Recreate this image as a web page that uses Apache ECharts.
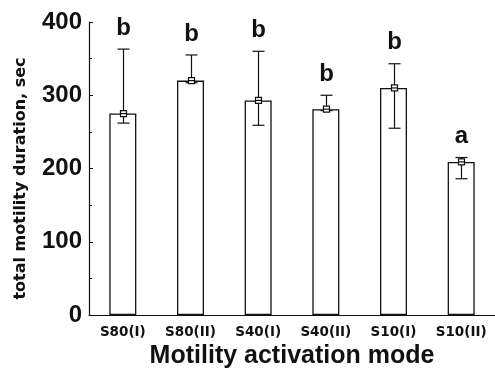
<!DOCTYPE html>
<html>
<head>
<meta charset="utf-8">
<script src="https://cdn.jsdelivr.net/npm/echarts@6/dist/echarts.min.js"></script>
<style>
  html, body { margin: 0; padding: 0; background: #fff; }
  #chart { width: 495px; height: 371px; }
</style>
</head>
<body>
<div id="chart"></div>
<script>
const categories = ["S80(I)", "S80(II)", "S40(I)", "S40(II)", "S10(I)", "S10(II)"];
const means = [275, 320, 293, 281, 310, 209];
const errHigh = [363, 355, 360, 300, 343, 215];
const errLow = [262, 317, 259, 279, 255, 186];
const letters = ["b", "b", "b", "b", "b", "a"];
const yTicks = { min: 0, max: 400, interval: 100 };

const FONT = "Liberation Sans, Arial, sans-serif";
const WIDE = "DejaVu Sans, sans-serif";
const INK = "#111";

// error bar + mean marker + significance letter, one item per category
function renderError(params, api) {
  const i = api.value(0);
  const top = api.coord([i, api.value(2)]);
  const bottom = api.coord([i, api.value(3)]);
  const mid = api.coord([i, api.value(1)]);
  const x = Math.round(top[0]) + 0.5;
  const cap = 6;
  const sq = 3;
  const stroke = { stroke: INK, lineWidth: 1.2 };
  return {
    type: "group",
    children: [
      { type: "line", shape: { x1: x, y1: top[1], x2: x, y2: bottom[1] }, style: stroke },
      { type: "line", shape: { x1: x - cap, y1: top[1], x2: x + cap, y2: top[1] }, style: stroke },
      { type: "line", shape: { x1: x - cap, y1: bottom[1], x2: x + cap, y2: bottom[1] }, style: stroke },
      { type: "rect", shape: { x: x - sq, y: mid[1] - sq, width: sq * 2, height: sq * 2 },
        style: { fill: "#fff", stroke: INK, lineWidth: 1.2 } },
      { type: "line", shape: { x1: x - sq, y1: mid[1], x2: x + sq, y2: mid[1] }, style: stroke },
      { type: "text", x: x, y: top[1] - 9,
        style: { text: letters[i], font: "bold 24px " + FONT, fill: INK,
                 align: "center", verticalAlign: "bottom" } }
    ]
  };
}

const chart = echarts.init(document.getElementById("chart"), null, { renderer: "canvas" });
chart.setOption({
  backgroundColor: "#fff",
  animation: false,
  grid: { left: 89, right: 0, top: 22, bottom: 56, outerBoundsMode: "none" },
  xAxis: {
    type: "category",
    data: categories,
    name: "Motility activation mode",
    nameLocation: "middle",
    nameGap: 27,
    nameTextStyle: { fontFamily: FONT, fontWeight: "bold", fontSize: 25, color: INK },
    axisLine: { lineStyle: { color: INK, width: 1.2 } },
    axisTick: { inside: true, alignWithLabel: true, length: 3, lineStyle: { color: INK } },
    axisLabel: { fontFamily: WIDE, fontWeight: "bold", fontSize: 13.5, color: INK, margin: 10, interval: 0 }
  },
  yAxis: {
    type: "value",
    min: yTicks.min,
    max: yTicks.max,
    interval: yTicks.interval,
    name: "total motility duration, sec",
    nameLocation: "middle",
    nameGap: 60,
    nameTextStyle: { fontFamily: WIDE, fontWeight: "bold", fontSize: 16, color: INK, padding: [0, 20, 0, 0] },
    axisLine: { show: true, lineStyle: { color: INK, width: 1.2 } },
    axisTick: { show: true, inside: true, length: 4, lineStyle: { color: INK } },
    minorTick: { show: true, splitNumber: 2, length: 3, lineStyle: { color: INK } },
    splitLine: { show: false },
    axisLabel: { fontFamily: FONT, fontWeight: "bold", fontSize: 24, color: INK, margin: 7 }
  },
  series: [
    {
      type: "bar",
      data: means,
      barWidth: 27,
      itemStyle: { color: "#fff", borderColor: INK, borderWidth: 1.3 }
    },
    {
      type: "custom",
      renderItem: renderError,
      data: means.map((m, i) => [i, m, errHigh[i], errLow[i]]),
      encode: { x: 0, y: [1, 2, 3] },
      z: 10
    }
  ]
});
</script>
</body>
</html>
